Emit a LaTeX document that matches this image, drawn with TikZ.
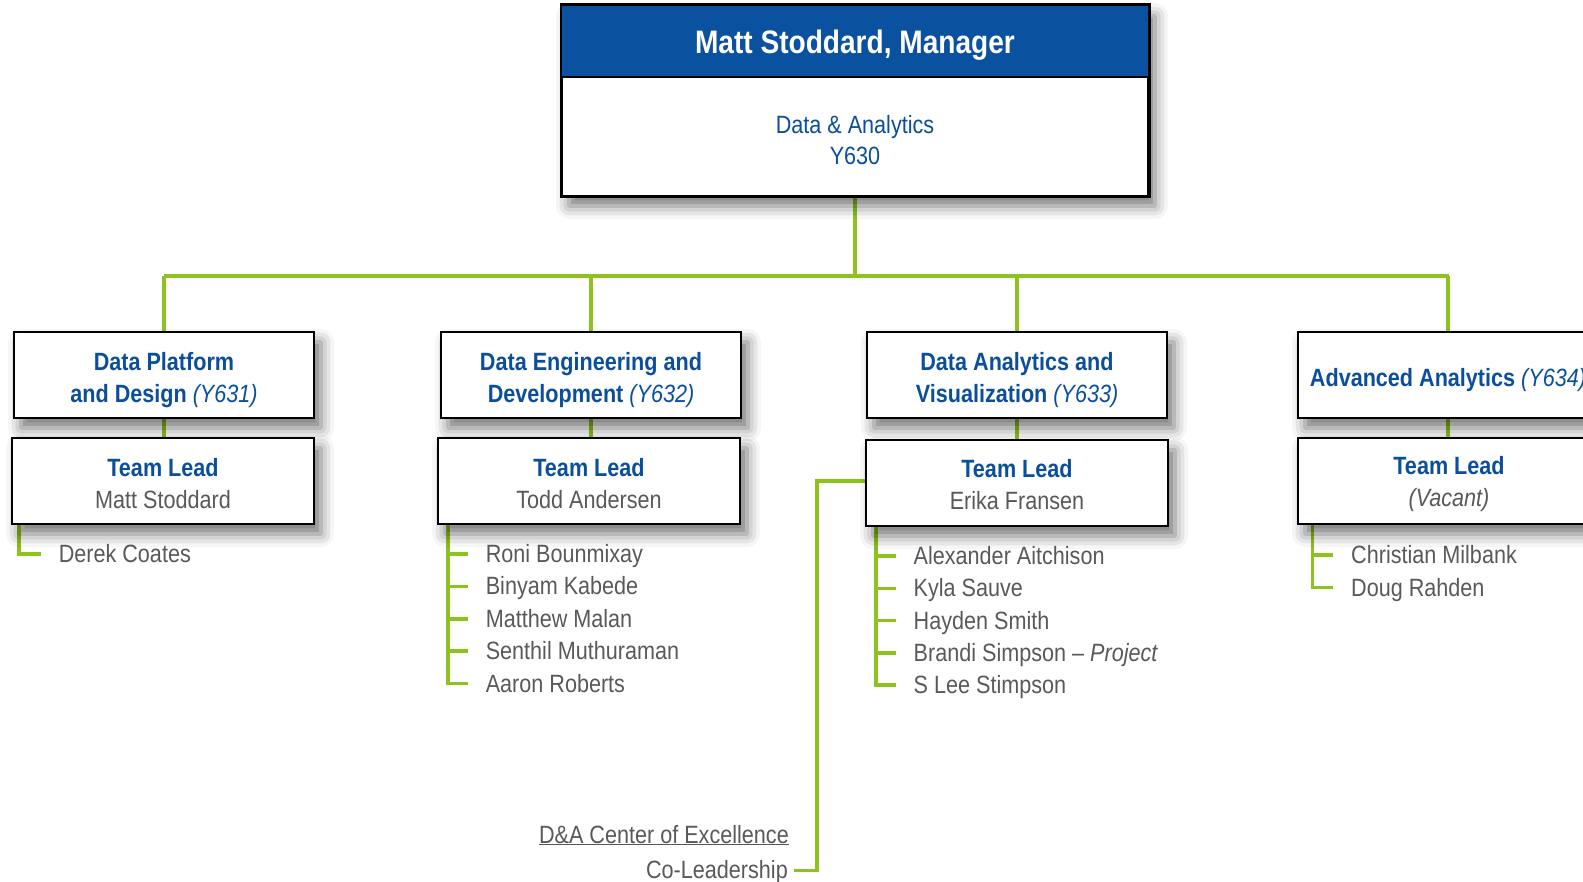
\documentclass[tikz,border=0pt]{standalone}
\usepackage{fontspec}
\setmainfont[FakeStretch=0.864]{Liberation Sans}
\usetikzlibrary{shadows.blur,backgrounds,calc}
\definecolor{hdrblue}{HTML}{0A51A0}
\definecolor{txtblue}{HTML}{0B4F9C}
\definecolor{lgreen}{HTML}{8DC21F}
\definecolor{txtgray}{HTML}{595959}
\begin{document}
\begin{tikzpicture}[x=1pt,y=-1pt,
  boxshadow/.style={blur shadow={shadow xshift=7pt, shadow yshift=-10pt, shadow blur radius=13pt, shadow opacity=55}},
  orgbox/.style={draw=black, line width=2.5pt, fill=white, minimum width=300pt, minimum height=86pt,
    inner sep=0pt, boxshadow},
  boxtext/.style={inner sep=0pt, align=center, text=txtblue, font=\fontsize{25}{32}\selectfont},
  conn/.style={draw=lgreen, line width=4pt},
  mconn/.style={draw=lgreen, line width=3.5pt},
  member/.style={anchor=base west, inner sep=0pt, text=txtgray, font=\fontsize{25}{30}\selectfont},
  gtext/.style={inner sep=0pt, text=txtgray, font=\fontsize{25}{30}\selectfont},
]
\useasboundingbox (0,0) rectangle (1583,882);

% top box
\node[draw=black, line width=2.5pt, fill=white, minimum width=586pt, minimum height=190pt, inner sep=0pt, boxshadow] (top) at (855,101) {};
\fill[hdrblue] (top.north west) rectangle ($(top.north east)+(0,72)$);
\draw[line width=2.5pt] (top.north west) rectangle (top.south east);
\draw[line width=2pt] ($(top.north west)+(0,72)$) -- ($(top.north east)+(0,72)$);
\node[anchor=base, inner sep=0pt, text=white, font=\fontsize{32.5}{39}\selectfont\bfseries] (title) at (855,53.3) {Matt Stoddard, Manager};
\node[anchor=base, inner sep=0pt, text=txtblue, font=\fontsize{25}{31}\selectfont] (dept) at (855,133.3) {Data \& Analytics};
\node[anchor=base, inner sep=0pt, text=txtblue, font=\fontsize{25}{31}\selectfont] (code) at (855,164.3) {Y630};

% level 2 boxes
\node[orgbox] (b1) at (164,375) {};
\node[orgbox] (b2) at (591,375) {};
\node[orgbox] (b3) at (1017,375) {};
\node[orgbox] (b4) at (1448,375) {};
\node[boxtext] (b1t) at ($(b1)+(0,5)$) {\textbf{Data Platform}\\\textbf{and Design} \textit{(Y631)}};
\node[boxtext] (b2t) at ($(b2)+(0,5)$) {\textbf{Data Engineering and}\\\textbf{Development} \textit{(Y632)}};
\node[boxtext] (b3t) at ($(b3)+(0,5)$) {\textbf{Data Analytics and}\\\textbf{Visualization} \textit{(Y633)}};
\node[boxtext] (b4t) at ($(b4)+(0,5)$) {\textbf{Advanced Analytics} \textit{(Y634)}};

% team lead boxes
\node[orgbox, minimum width=302pt] (t1) at (163,481) {};
\node[orgbox, minimum width=302pt] (t2) at (589,481) {};
\node[orgbox, minimum width=302pt] (t3) at (1017,483) {};
\node[orgbox, minimum width=302pt] (t4) at (1449,481) {};
\node[boxtext] (t1t) at ($(t1)+(0,3)$) {\textbf{Team Lead}\\\textcolor{txtgray}{Matt Stoddard}};
\node[boxtext] (t2t) at ($(t2)+(0,3)$) {\textbf{Team Lead}\\\textcolor{txtgray}{Todd Andersen}};
\node[boxtext] (t3t) at ($(t3)+(0,2)$) {\textbf{Team Lead}\\\textcolor{txtgray}{Erika Fransen}};
\node[boxtext] (t4t) at ($(t4)+(0,3)$) {\textbf{Team Lead}\\\textcolor{txtgray}{\itshape(Vacant)}};

% members
\node[member] (m11) at (58.6,562.5) {Derek Coates};

\node[member] (m21) at (485.6,562.5) {Roni Bounmixay};
\node[member] (m22) at (485.6,594.9) {Binyam Kabede};
\node[member] (m23) at (485.6,627.3) {Matthew Malan};
\node[member] (m24) at (485.6,659.7) {Senthil Muthuraman};
\node[member] (m25) at (485.6,692.1) {Aaron Roberts};

\node[member] (m31) at (913.5,564.5) {Alexander Aitchison};
\node[member] (m32) at (913.5,596.8) {Kyla Sauve};
\node[member] (m33) at (913.5,629.1) {Hayden Smith};
\node[member] (m34) at (913.5,661.4) {Brandi Simpson -- \textit{Project}};
\node[member] (m35) at (913.5,693.7) {S Lee Stimpson};

\node[member] (m41) at (1351,563.5) {Christian Milbank};
\node[member] (m42) at (1351,596.1) {Doug Rahden};

% CoE
\node[gtext, anchor=base east] (coe) at (789,843) {\underline{D\&A Center of Excellence}};
\node[gtext, anchor=base east] (colead) at (788,878) {Co-Leadership};
\coordinate (coeTop) at (817,481);
\coordinate (coeBot) at (817,870.5);
\coordinate (coeEnd) at (794,870.5);

\begin{scope}[on background layer]
  \coordinate (busL) at (164,276);
  \coordinate (busR) at (1449,276);
  \draw[conn] (busL) -- (busR);
  \draw[conn] (top.south) -- (top.south |- busL);
  \foreach \b/\t in {b1/t1,b2/t2,b3/t3,b4/t4}{
    \draw[conn] (\b.north |- busL) -- (\b.north);
    \draw[conn] (\b.south) -- (\b.south |- \t.north);
  }
  % member lines
  \draw[mconn] ($(t1.south west)+(8,0)$) |- ($(m11.base west)+(-18,-8.5)$);
  \draw[mconn] ($(t2.south west)+(11,0)$) |- ($(m25.base west)+(-18,-8.5)$);
  \foreach \m in {m21,m22,m23,m24}{
    \draw[mconn] ($(\m.base west)+(-37,-8.5)$) -- ($(\m.base west)+(-18,-8.5)$);
  }
  \draw[mconn] ($(t3.south west)+(11,0)$) |- ($(m35.base west)+(-18,-8.5)$);
  \foreach \m in {m31,m32,m33,m34}{
    \draw[mconn] ($(\m.base west)+(-37,-8.5)$) -- ($(\m.base west)+(-18,-8.5)$);
  }
  \draw[mconn] ($(t4.south west)+(15.5,0)$) |- ($(m42.base west)+(-18,-8.5)$);
  \draw[mconn] ($(m41.base west)+(-37,-8.5)$) -- ($(m41.base west)+(-18,-8.5)$);
  % CoE connector
  \draw[mconn] ($(t3.west)+(0,-2)$) -- (coeTop) -- (coeBot) -- (coeEnd);
\end{scope}
\end{tikzpicture}
\end{document}
